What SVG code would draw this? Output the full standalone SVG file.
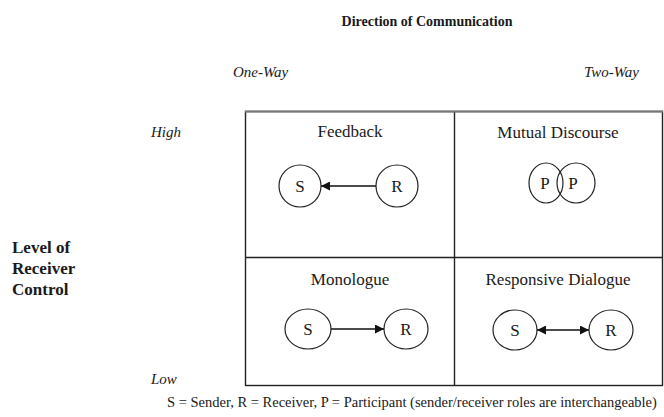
<svg xmlns="http://www.w3.org/2000/svg" width="664" height="417" viewBox="0 0 664 417">
<style>
text{font-family:"Liberation Serif","Times New Roman",serif;fill:#1a1a1a}
.b{font-weight:bold}
.i{font-style:italic}
.lbl{font-size:17px;text-anchor:middle}
.ax{font-size:15px}
.node{fill:#fff;stroke:#222;stroke-width:1.2}
.grid{fill:none;stroke:#222;stroke-width:1.4}
.edge{stroke:#111;stroke-width:1.3;fill:none}
</style>
<defs>
<marker id="ah" viewBox="0 0 10 10" refX="10" refY="5" markerWidth="9" markerHeight="9" markerUnits="userSpaceOnUse" orient="auto-start-reverse">
<path d="M0,0 L10,5 L0,10 z" fill="#111"/>
</marker>
</defs>
<rect width="664" height="417" fill="#fff"/>
<text class="b" x="427" y="26" font-size="14" text-anchor="middle">Direction of Communication</text>
<text class="i ax" x="233" y="77">One-Way</text>
<text class="i ax" x="584" y="77">Two-Way</text>
<text class="i ax" x="151" y="137">High</text>
<text class="i ax" x="151" y="384">Low</text>
<text class="b" font-size="17" x="12" y="253">Level of</text>
<text class="b" font-size="17" x="12" y="274">Receiver</text>
<text class="b" font-size="17" x="12" y="295">Control</text>
<g id="grid">
<rect class="grid" x="245.5" y="111.5" width="417" height="274"/>
<line class="grid" x1="454.5" y1="111.5" x2="454.5" y2="385.5"/>
<line class="grid" x1="245.5" y1="257.5" x2="662.5" y2="257.5"/>
<line x1="245" y1="111.5" x2="663" y2="111.5" stroke="#777" stroke-width="2"/>
</g>
<g id="feedback">
<text class="lbl" x="350" y="137">Feedback</text>
<g id="fb-s"><ellipse class="node" cx="300" cy="186" rx="21" ry="21"/><text class="lbl" x="300" y="192">S</text></g>
<g id="fb-r"><ellipse class="node" cx="397" cy="186" rx="21" ry="21"/><text class="lbl" x="397" y="192">R</text></g>
</g>
<g id="mutual">
<text class="lbl" x="558" y="138">Mutual Discourse</text>
<g id="md-p1"><ellipse cx="546" cy="183" rx="17" ry="20" fill="none" stroke="#222" stroke-width="1.2"/><text class="lbl" x="545" y="189">P</text></g>
<g id="md-p2"><ellipse cx="576" cy="183" rx="19" ry="20" fill="none" stroke="#222" stroke-width="1.2"/><text class="lbl" x="573" y="189">P</text></g>
</g>
<g id="monologue">
<text class="lbl" x="350" y="285">Monologue</text>
<g id="mo-s"><ellipse class="node" cx="308" cy="329" rx="23" ry="20"/><text class="lbl" x="308" y="335">S</text></g>
<g id="mo-r"><ellipse class="node" cx="406" cy="329" rx="22" ry="20"/><text class="lbl" x="406" y="335">R</text></g>
</g>
<g id="dialogue">
<text class="lbl" x="558" y="285">Responsive Dialogue</text>
<g id="rd-s"><ellipse class="node" cx="515" cy="330" rx="22" ry="20"/><text class="lbl" x="515" y="336">S</text></g>
<g id="rd-r"><ellipse class="node" cx="611" cy="330" rx="22" ry="20"/><text class="lbl" x="611" y="336">R</text></g>
</g>
<g id="connectors">
<line class="edge" x1="376" y1="186" x2="321" y2="186" marker-end="url(#ah)"/>
<line class="edge" x1="331" y1="329" x2="384" y2="329" marker-end="url(#ah)"/>
<line class="edge" x1="537" y1="330" x2="589" y2="330" marker-start="url(#ah)" marker-end="url(#ah)"/>
</g>
<text font-size="14.5" x="167" y="407">S = Sender, R = Receiver, P = Participant (sender/receiver roles are interchangeable)</text>
</svg>
